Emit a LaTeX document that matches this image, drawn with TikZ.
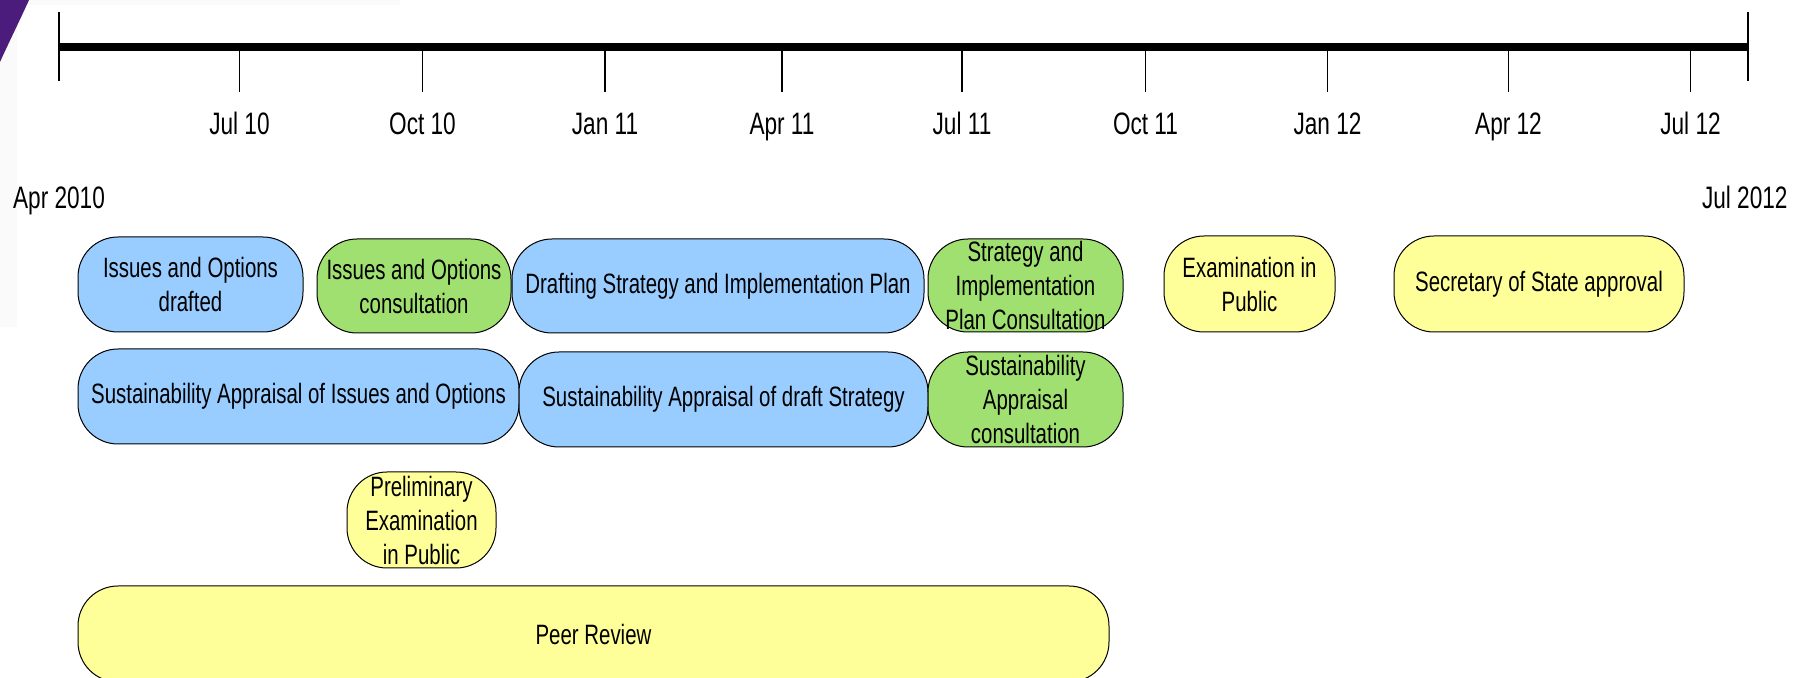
\documentclass[tikz,border=0pt]{standalone}
\usepackage{fontspec}
\setmainfont{Liberation Sans}[FakeStretch=0.73]
\usepackage{tikz}
\usepackage{xcolor}
\definecolor{stage-blue}{HTML}{99CCFF}
\definecolor{stage-green}{HTML}{A0E070}
\definecolor{stage-yellow}{HTML}{FFFF99}
\definecolor{slide-purple}{HTML}{4C1C7C}
\tikzset{
    stage-box/.style = {draw=black, line width=0.5pt, rectangle, rounded corners=20pt, inner sep=0pt, align=center, font=\fontsize{14}{17}\selectfont},
    blue-box/.style = {stage-box, fill=stage-blue},
    green-box/.style = {stage-box, fill=stage-green},
    yellow-box/.style = {stage-box, fill=stage-yellow},
    box-size/.style 2 args = {minimum width=#1*0.5pt, minimum height=#2*0.5pt},
    date-label/.style = {inner sep=0pt, font=\fontsize{15.5}{18}\selectfont},
    tick-line/.style = {line width=0.7pt},
}

\begin{document}
\begin{tikzpicture}[x=0.5pt, y=-0.5pt]
\useasboundingbox (0,0) rectangle (1796,678);
% slide background
\fill[black!2] (0,0) rectangle (400,5);
\fill[black!2] (0,0) rectangle (17,327);
\fill[slide-purple] (0,0) -- (29,0) .. controls (20,20) and (10,40) .. (0,62) -- cycle;

% time axis
\coordinate (axis-start) at (59,47);
\coordinate (axis-end) at (1748,47);
\draw[line width=4pt] (axis-start) -- (axis-end);
\draw[tick-line] ([yshift=17.5pt]axis-start) -- ([yshift=-17pt]axis-start);
\draw[tick-line] ([yshift=17.5pt]axis-end) -- ([yshift=-17pt]axis-end);
\foreach \x/\month [count=\i] in {239.5/Jul 10, 422.5/Oct 10, 605/Jan 11, 782/Apr 11, 962/Jul 11, 1145.5/Oct 11, 1327.5/Jan 12, 1508.5/Apr 12, 1690.5/Jul 12} {
    \coordinate (tick-\i) at (\x,47);
    \draw[tick-line] (tick-\i) -- ++(0,45);
    \node[date-label, anchor=base] (month-\i) at (\x,135) {\month};
}
\node[date-label, anchor=base west] (start-date) at (12.7,209) {Apr 2010};
\node[date-label, anchor=base east] (end-date) at (1788,209) {Jul 2012};

% stages
\node[blue-box, box-size={225}{95}] (issues-drafted) at (190.5,284.5) {Issues and Options\\drafted};
\node[green-box, box-size={194}{94}] (issues-consult) at (414,286) {Issues and Options\\consultation};
\node[blue-box, box-size={412}{94}] (drafting) at (718,286) {Drafting Strategy and Implementation Plan};
\node[green-box, box-size={195}{93}] (strategy-consult) at (1025.5,285.5) {Strategy and\\Implementation\\Plan Consultation};
\node[yellow-box, box-size={171}{96}] (eip) at (1249.5,284) {Examination in\\Public};
\node[yellow-box, box-size={290}{96}] (sos-approval) at (1539,284) {Secretary of State approval};

\node[blue-box, box-size={441}{95}] (sa-issues) at (298.5,396.5) {Sustainability Appraisal of Issues and Options};
\node[blue-box, box-size={409}{95}] (sa-draft) at (723.5,399.5) {Sustainability Appraisal of draft Strategy};
\node[green-box, box-size={195}{95}] (sa-consult) at (1025.5,399.5) {Sustainability\\Appraisal\\consultation};

\node[yellow-box, box-size={149}{96}] (prelim-eip) at (421.5,520) {Preliminary\\Examination\\in Public};

\node[yellow-box, box-size={1031}{96}] (peer-review) at (593.5,634) {Peer Review};
\end{tikzpicture}
\end{document}
